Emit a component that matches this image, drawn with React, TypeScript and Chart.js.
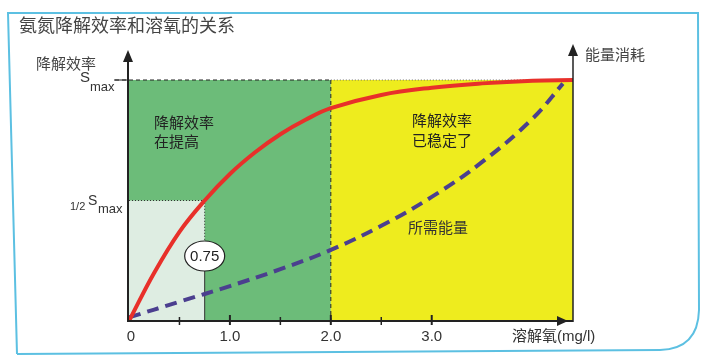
import { useEffect, useRef } from 'react';
import { Chart, registerables } from 'chart.js';
Chart.register(...registerables);

// ---- data ----
const chartTitle = '氨氮降解效率和溶氧的关系';
const efficiencyX = [0, 0.25, 0.5, 0.75, 1.0, 1.25, 1.5, 1.75, 2.0, 2.5, 3.0, 3.5, 4.0, 4.4];
const efficiencyY = [0, 20, 37, 50, 61, 70, 77.5, 83.5, 88.3, 93.8, 96.8, 98.6, 99.7, 100];
const energyX = [0, 0.5, 1.0, 1.5, 2.0, 2.5, 3.0, 3.5, 4.0, 4.3];
const energyY = [1.5, 8, 14.5, 21.5, 29.5, 39.5, 51.5, 66, 84, 98.5];
const majorTicks = [0, 1, 2, 3];
const majorTickLabels = ['0', '1.0', '2.0', '3.0'];
const minorTicks = [0.5, 1.5, 2.5];
const xMax = 4.4;
const yMax = 100;
const halfSat = 50;
const kValue = 0.75;
const kLabel = '0.75';
const stableX = 2.0;
const xAxisTitle = '溶解氧(mg/l)';
const leftAxisTitle = '降解效率';
const rightAxisTitle = '能量消耗';
const zone1Text = ['降解效率', '在提高'];
const zone2Text = ['降解效率', '已稳定了'];
const energyText = '所需能量';

const FONT = '"Liberation Sans", "Noto Sans CJK SC", sans-serif';
const CJK = '"Noto Sans CJK SC", sans-serif';

const decor = {
  id: 'decor',
  beforeDraw(chart: any) {
    const ctx = chart.ctx;
    ctx.save();
    ctx.fillStyle = '#ffffff';
    ctx.fillRect(0, 0, chart.width, chart.height);
    // frame
    ctx.strokeStyle = '#5cc0e2';
    ctx.lineWidth = 2;
    ctx.beginPath();
    ctx.moveTo(17, 354);
    ctx.lineTo(8, 13);
    ctx.lineTo(698, 13);
    ctx.lineTo(699, 310);
    ctx.quadraticCurveTo(698, 349, 660, 350);
    ctx.lineTo(17, 354);
    ctx.stroke();
    // title
    ctx.fillStyle = '#444';
    ctx.font = '18px ' + CJK;
    ctx.textBaseline = 'middle';
    ctx.textAlign = 'left';
    ctx.fillText(chartTitle, 19, 25);
    ctx.restore();
  },
  beforeDatasetsDraw(chart: any) {
    const ctx = chart.ctx;
    const xs = chart.scales.x, ys = chart.scales.y;
    const x0 = xs.getPixelForValue(0), x2 = xs.getPixelForValue(stableX), xm = xs.getPixelForValue(xMax);
    const y0 = ys.getPixelForValue(0), yt = ys.getPixelForValue(yMax), yh = ys.getPixelForValue(halfSat);
    const xk = xs.getPixelForValue(kValue);
    ctx.save();
    ctx.fillStyle = '#6cbc79';
    ctx.fillRect(x0 - 1, yt, x2 - x0 + 1, y0 - yt);
    ctx.fillStyle = '#eeec1e';
    ctx.fillRect(x2, yt, xm - x2, y0 - yt);
    ctx.fillStyle = '#deede2';
    ctx.fillRect(x0 - 1, yh, xk - x0 + 1, y0 - yh);
    // dotted borders of half box
    ctx.strokeStyle = '#333';
    ctx.lineWidth = 1;
    ctx.setLineDash([1, 2]);
    ctx.beginPath();
    ctx.moveTo(x0, yh); ctx.lineTo(xk, yh); ctx.lineTo(xk, y0 - 60);
    ctx.stroke();
    ctx.setLineDash([]);
    ctx.beginPath();
    ctx.moveTo(xk, y0 - 50); ctx.lineTo(xk, y0);
    ctx.stroke();
    // vertical dashed at stable
    ctx.setLineDash([4, 3]);
    ctx.strokeStyle = '#222';
    ctx.beginPath();
    ctx.moveTo(x2, yt); ctx.lineTo(x2, y0);
    ctx.stroke();
    // top dashed line
    ctx.beginPath();
    ctx.moveTo(x0 - 14, yt); ctx.lineTo(x2, yt);
    ctx.stroke();
    ctx.setLineDash([1, 2]);
    ctx.strokeStyle = '#666';
    ctx.beginPath();
    ctx.moveTo(x2, yt); ctx.lineTo(xm, yt);
    ctx.stroke();
    ctx.restore();
  },
  afterDatasetsDraw(chart: any) {
    const ctx = chart.ctx;
    const xs = chart.scales.x, ys = chart.scales.y;
    const x0 = xs.getPixelForValue(0), xm = xs.getPixelForValue(xMax);
    const y0 = ys.getPixelForValue(0), yt = ys.getPixelForValue(yMax), yh = ys.getPixelForValue(halfSat);
    const xk = xs.getPixelForValue(kValue);
    ctx.save();
    ctx.strokeStyle = '#222';
    ctx.fillStyle = '#222';
    ctx.lineWidth = 2;
    // left axis
    const lx = x0 - 1;
    ctx.beginPath(); ctx.moveTo(lx, y0 + 1); ctx.lineTo(lx, 60); ctx.stroke();
    ctx.beginPath(); ctx.moveTo(lx, 50); ctx.lineTo(lx - 5, 62); ctx.lineTo(lx + 5, 62); ctx.closePath(); ctx.fill();
    // right axis
    ctx.lineWidth = 1.5;
    ctx.beginPath(); ctx.moveTo(xm, y0 + 1); ctx.lineTo(xm, 55); ctx.stroke();
    ctx.beginPath(); ctx.moveTo(xm, 44); ctx.lineTo(xm - 5, 56); ctx.lineTo(xm + 5, 56); ctx.closePath(); ctx.fill();
    // bottom axis
    ctx.lineWidth = 2;
    ctx.beginPath(); ctx.moveTo(lx, y0); ctx.lineTo(xm, y0); ctx.stroke();
    ctx.beginPath(); ctx.moveTo(568, y0); ctx.lineTo(557, y0 - 5); ctx.lineTo(557, y0 + 5); ctx.closePath(); ctx.fill();
    // Smax tick
    ctx.lineWidth = 1;
    ctx.beginPath(); ctx.moveTo(lx - 14, yt); ctx.lineTo(lx, yt); ctx.stroke();
    // x ticks
    ctx.lineWidth = 2;
    majorTicks.forEach((v, i) => {
      const px = xs.getPixelForValue(v);
      if (i > 0) { ctx.beginPath(); ctx.moveTo(px, y0 - 6); ctx.lineTo(px, y0 + 4); ctx.stroke(); }
    });
    ctx.lineWidth = 1.5;
    minorTicks.forEach((v) => {
      const px = xs.getPixelForValue(v);
      ctx.beginPath(); ctx.moveTo(px, y0 - 4); ctx.lineTo(px, y0 + 4); ctx.stroke();
    });
    // tick labels
    ctx.fillStyle = '#333';
    ctx.font = '15px ' + FONT;
    ctx.textAlign = 'center';
    ctx.textBaseline = 'middle';
    majorTicks.forEach((v, i) => {
      const px = xs.getPixelForValue(v) + (i === 0 ? 2 : 0);
      ctx.fillText(majorTickLabels[i], px, y0 + 16);
    });
    ctx.textAlign = 'left';
    ctx.fillText(xAxisTitle, 512, y0 + 16);
    // axis titles
    ctx.font = '15px ' + CJK;
    ctx.fillStyle = '#444';
    ctx.fillText(leftAxisTitle, 36, 63);
    ctx.fillText(rightAxisTitle, 585, 54);
    // Smax labels
    ctx.font = '15px ' + FONT;
    ctx.fillStyle = '#333';
    ctx.fillText('S', 80, yt - 2);
    ctx.font = '13px ' + FONT;
    ctx.fillText('max', 90, yt + 7);
    ctx.font = '11px ' + FONT;
    ctx.fillText('1/2', 70, yh + 6);
    ctx.font = '14px ' + FONT;
    ctx.fillText('S', 88, yh + 1);
    ctx.font = '13px ' + FONT;
    ctx.fillText('max', 98, yh + 9);
    // zone text
    ctx.font = '15px ' + CJK;
    ctx.fillStyle = '#222';
    ctx.fillText(zone1Text[0], 154, 122);
    ctx.fillText(zone1Text[1], 154, 141);
    ctx.fillText(zone2Text[0], 412, 120);
    ctx.fillText(zone2Text[1], 412, 140);
    ctx.fillStyle = '#333';
    ctx.fillText(energyText, 408, 227);
    // 0.75 ellipse
    const ey = y0 - 65;
    ctx.beginPath();
    ctx.ellipse(xk, ey, 20, 15, 0, 0, Math.PI * 2);
    ctx.fillStyle = '#ffffff';
    ctx.fill();
    ctx.lineWidth = 1.2;
    ctx.strokeStyle = '#222';
    ctx.stroke();
    ctx.fillStyle = '#222';
    ctx.font = '15px ' + FONT;
    ctx.textAlign = 'center';
    ctx.fillText(kLabel, xk, ey + 1);
    ctx.restore();
  },
};

export default function App() {
  const ref = useRef<HTMLCanvasElement | null>(null);
  useEffect(() => {
    document.body.style.margin = '0';
    const canvas = ref.current!;
    const chart = new Chart(canvas, {
      type: 'scatter',
      data: {
        datasets: [
          {
            label: 'efficiency',
            data: efficiencyX.map((x, i) => ({ x, y: efficiencyY[i] })),
            showLine: true,
            borderColor: '#e8302a',
            borderWidth: 4,
            pointRadius: 0,
            tension: 0.4,
            clip: 6,
          } as any,
          {
            label: 'energy',
            data: energyX.map((x, i) => ({ x, y: energyY[i] })),
            showLine: true,
            borderColor: '#4b3f8f',
            borderWidth: 4,
            borderDash: [12, 7],
            pointRadius: 0,
            tension: 0.4,
            clip: 6,
          } as any,
        ],
      },
      options: {
        responsive: false,
        animation: false,
        devicePixelRatio: 1,
        layout: { padding: { left: 129, right: 137, top: 80, bottom: 38 } },
        scales: {
          x: { type: 'linear', min: 0, max: xMax, display: false },
          y: { type: 'linear', min: 0, max: yMax, display: false },
        },
        plugins: { legend: { display: false }, tooltip: { enabled: false } },
      },
      plugins: [decor],
    });
    return () => chart.destroy();
  }, []);
  return (
    <div style={{ width: 710, height: 359 }}>
      <canvas ref={ref} width={710} height={359} style={{ display: 'block' }} />
    </div>
  );
}
